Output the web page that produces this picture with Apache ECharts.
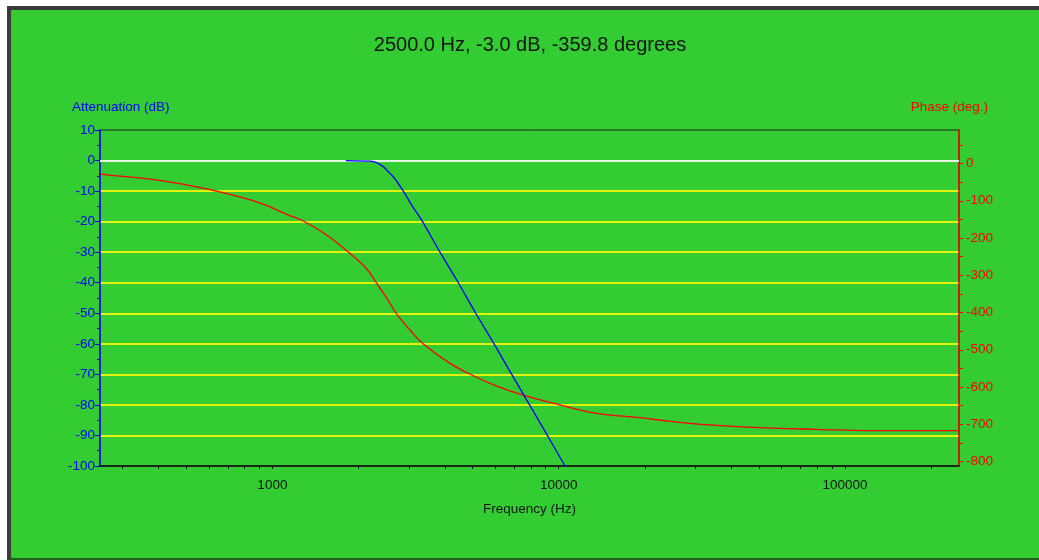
<!DOCTYPE html>
<html><head><meta charset="utf-8">
<script src="https://cdn.jsdelivr.net/npm/echarts@6/dist/echarts.min.js"></script>
<style>
html,body{margin:0;padding:0;background:#fff;width:1039px;height:560px;overflow:hidden;}
#frame{position:absolute;left:7px;top:6px;width:1032px;height:554px;box-sizing:border-box;background:#33cc33;border-left:4px solid #3b3b3b;border-top:4px solid #3b3b3b;border-bottom:2px solid #1e5e1e;}
#chart{position:absolute;left:0;top:0;width:1039px;height:560px;}
</style></head><body>
<div id="frame"></div><div id="chart"></div>
<script>
const TITLE = '2500.0 Hz, -3.0 dB, -359.8 degrees';
const ATTEN_NAME = 'Attenuation (dB)';
const PHASE_NAME = 'Phase (deg.)';
const FREQ_NAME = 'Frequency (Hz)';

// Attenuation curve (blue, left axis)
const freqAtten = [1807, 2193, 2300, 2440, 2500, 2644, 2866, 3066, 3322, 3849, 4461, 5130, 5943, 6852, 8835, 10520];
const attenuation = [0, -0.2, -0.6, -2.0, -3.0, -5.3, -10.0, -14.6, -19.5, -30.0, -40.0, -50.0, -60.0, -70.0, -87.7, -100];

// Phase curve (red, right axis)
const freqPhase = [250, 286, 374, 489, 605, 730, 929, 1122, 1282, 1547, 1841, 2135, 2313, 2500, 2718, 3024, 3366, 4172, 5031, 6072, 7520, 9840, 13570, 19230, 24480, 31590, 45370, 78560, 125600, 250000];
const phase = [-27.5, -33, -41.6, -56, -70, -85, -109, -136.4, -154.4, -191.9, -237.6, -283, -321.6, -359.8, -404, -447, -484.6, -536.4, -569.7, -597.3, -621.5, -645.6, -670.6, -682.4, -692.1, -700.1, -707.4, -713.6, -717.3, -717.3];

// Axis ticks / labels
const xLabelValues = [1000, 10000, 100000];
const xLabels = ['1000', '10000', '100000'];
const xTickValues = [300,400,500,600,700,800,900,1000,2000,3000,4000,5000,6000,7000,8000,9000,10000,20000,30000,40000,50000,60000,70000,80000,90000,100000,200000];
const phaseLabelValues = [0,-100,-200,-300,-400,-500,-600,-700,-800];
const phaseTickValues = [50,0,-50,-100,-150,-200,-250,-300,-350,-400,-450,-500,-550,-600,-650,-700,-750,-800];

const FONT = "'Liberation Sans', Arial, sans-serif";
const chart = echarts.init(document.getElementById('chart'), null, {renderer: 'canvas'});

chart.setOption({
  animation: false,
  backgroundColor: 'transparent',
  title: {
    text: TITLE, left: 530, top: 35, textAlign: 'center', padding: 0,
    textStyle: {color: '#151515', fontSize: 20, fontWeight: 'normal', fontFamily: FONT}
  },
  grid: {left: 100, top: 130, width: 859, height: 336, show: true, borderColor: '#1c2a1c', borderWidth: 1, backgroundColor: 'transparent', containLabel: false},
  graphic: [
    {type: 'text', x: 72, y: 107, style: {text: ATTEN_NAME, fill: '#0000ff', font: '13.5px ' + FONT, align: 'left', verticalAlign: 'middle'}},
    {type: 'text', x: 988, y: 107, style: {text: PHASE_NAME, fill: '#ff0000', font: '13.5px ' + FONT, align: 'right', verticalAlign: 'middle'}}
  ],
  xAxis: [{
    type: 'log', logBase: 10, min: 250, max: 250000,
    name: FREQ_NAME, nameLocation: 'middle', nameGap: 36,
    nameTextStyle: {color: '#151515', fontSize: 13.5, fontFamily: FONT},
    axisLine: {show: true, onZero: false, lineStyle: {color: '#111', width: 1.5}},
    axisTick: {show: true, inside: false, length: 3, customValues: xTickValues, lineStyle: {color: '#111', width: 1}},
    axisLabel: {show: true, customValues: xLabelValues, margin: 12, color: '#151515', fontSize: 13.5, fontFamily: FONT,
      formatter: v => { const i = xLabelValues.findIndex(t => Math.abs(t - v) / t < 1e-6); return i >= 0 ? xLabels[i] : ''; }},
    splitLine: {show: false}, minorTick: {show: false}, minorSplitLine: {show: false}
  }],
  yAxis: [{
    type: 'value', min: -100, max: 10, interval: 10, position: 'left',
    axisLine: {show: true, onZero: false, lineStyle: {color: '#0000ff', width: 1.5}},
    axisTick: {show: true, length: 5, lineStyle: {color: '#0000ff'}},
    minorTick: {show: true, splitNumber: 2, length: 3, lineStyle: {color: '#0000ff'}},
    axisLabel: {margin: 5, color: '#0000ff', fontSize: 13.5, fontFamily: FONT},
    splitLine: {show: true, showMinLine: false, showMaxLine: false, lineStyle: {color: '#e2f20a', width: 2}}
  }, {
    type: 'value', min: -812, max: 90, position: 'right',
    axisLine: {show: true, onZero: false, lineStyle: {color: '#ff0000', width: 1.5}},
    axisTick: {show: true, length: 4, customValues: phaseTickValues, lineStyle: {color: '#ff0000'}},
    axisLabel: {margin: 7, color: '#ff0000', fontSize: 13.5, fontFamily: FONT, customValues: phaseLabelValues},
    splitLine: {show: false}
  }],
  series: [{
    type: 'line', name: ATTEN_NAME, xAxisIndex: 0, yAxisIndex: 0,
    data: freqAtten.map((f, i) => [f, attenuation[i]]),
    smooth: 0.25,
    showSymbol: false, symbol: 'none', lineStyle: {color: '#0000ff', width: 1.3}, z: 5,
    markLine: {silent: true, symbol: 'none', label: {show: false}, lineStyle: {color: '#e4f2e4', width: 1.8, type: 'solid'}, data: [{yAxis: 0}], z: 3}
  }, {
    type: 'line', name: PHASE_NAME, xAxisIndex: 0, yAxisIndex: 1,
    data: freqPhase.map((f, i) => [f, phase[i]]),
    smooth: 0.4,
    showSymbol: false, symbol: 'none', lineStyle: {color: '#ff0000', width: 1.3}, z: 4
  }]
});
</script>
</body></html>
